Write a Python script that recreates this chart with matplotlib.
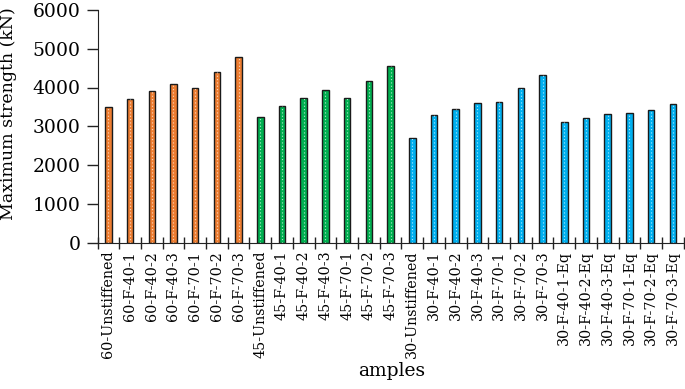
import matplotlib
matplotlib.use("Agg")
import matplotlib.pyplot as plt
import numpy as np

samples = [
    "60-Unstiffened", "60-F-40-1", "60-F-40-2", "60-F-40-3", "60-F-70-1", "60-F-70-2", "60-F-70-3",
    "45-Unstiffened", "45-F-40-1", "45-F-40-2", "45-F-40-3", "45-F-70-1", "45-F-70-2", "45-F-70-3",
    "30-Unstiffened", "30-F-40-1", "30-F-40-2", "30-F-40-3", "30-F-70-1", "30-F-70-2", "30-F-70-3",
    "30-F-40-1-Eq", "30-F-40-2-Eq", "30-F-40-3-Eq", "30-F-70-1-Eq", "30-F-70-2-Eq", "30-F-70-3-Eq",
]
strength = [
    3500, 3700, 3900, 4100, 4000, 4400, 4800,
    3230, 3510, 3740, 3940, 3740, 4170, 4560,
    2700, 3280, 3450, 3600, 3620, 3980, 4320,
    3100, 3220, 3310, 3330, 3420, 3570,
]
groups = ["60"] * 7 + ["45"] * 7 + ["30"] * 13
group_colors = {"60": "#ED7D31", "45": "#00B050", "30": "#00B0F0"}

plt.rcParams["font.family"] = ["DejaVu Serif"]

fig = plt.figure(figsize=(6.85, 3.89), dpi=100)
ax = fig.add_axes([97.5 / 685, 1 - 242.5 / 389, (685 - 97.5) / 685, (242.5 - 10) / 389])

x = np.arange(len(samples))
colors = [group_colors[g] for g in groups]
ax.bar(x, strength, width=0.3, color=colors, edgecolor="#1a1a1a", linewidth=1.0, zorder=2)
ax.vlines(x, 0, strength, colors="white", linestyles=(0, (1, 2)), linewidth=0.8, alpha=0.7, zorder=3)

ax.set_yticks(range(0, 6001, 1000))
ax.set_xticks(x)
ax.set_xticklabels(samples, rotation=90, fontsize=10.3)
ax.set_xticks(np.arange(-0.5, len(samples), 1), minor=True)
ax.tick_params(axis="x", which="major", length=0, pad=6)
ax.tick_params(axis="x", which="minor", direction="inout", length=9, width=1, color="#222222")
ax.tick_params(axis="y", direction="out", length=8, width=1, labelsize=13.5, color="#222222", pad=4)
ax.set_xlim(-0.5, 26.56)
ax.set_ylim(0, 6000)

for side in ["top", "right"]:
    ax.spines[side].set_visible(False)
ax.spines["left"].set_color("#222222")
ax.spines["bottom"].set_color("#222222")

ax.set_ylabel("Maximum strength (kN)", fontsize=12.5)
ax.yaxis.set_label_coords(-0.137, 0.555)
ax.set_xlabel("amples", fontsize=13.5, va="top")
ax.xaxis.set_label_coords(0.5, -0.515)

fig.savefig("out.png", dpi=100)
